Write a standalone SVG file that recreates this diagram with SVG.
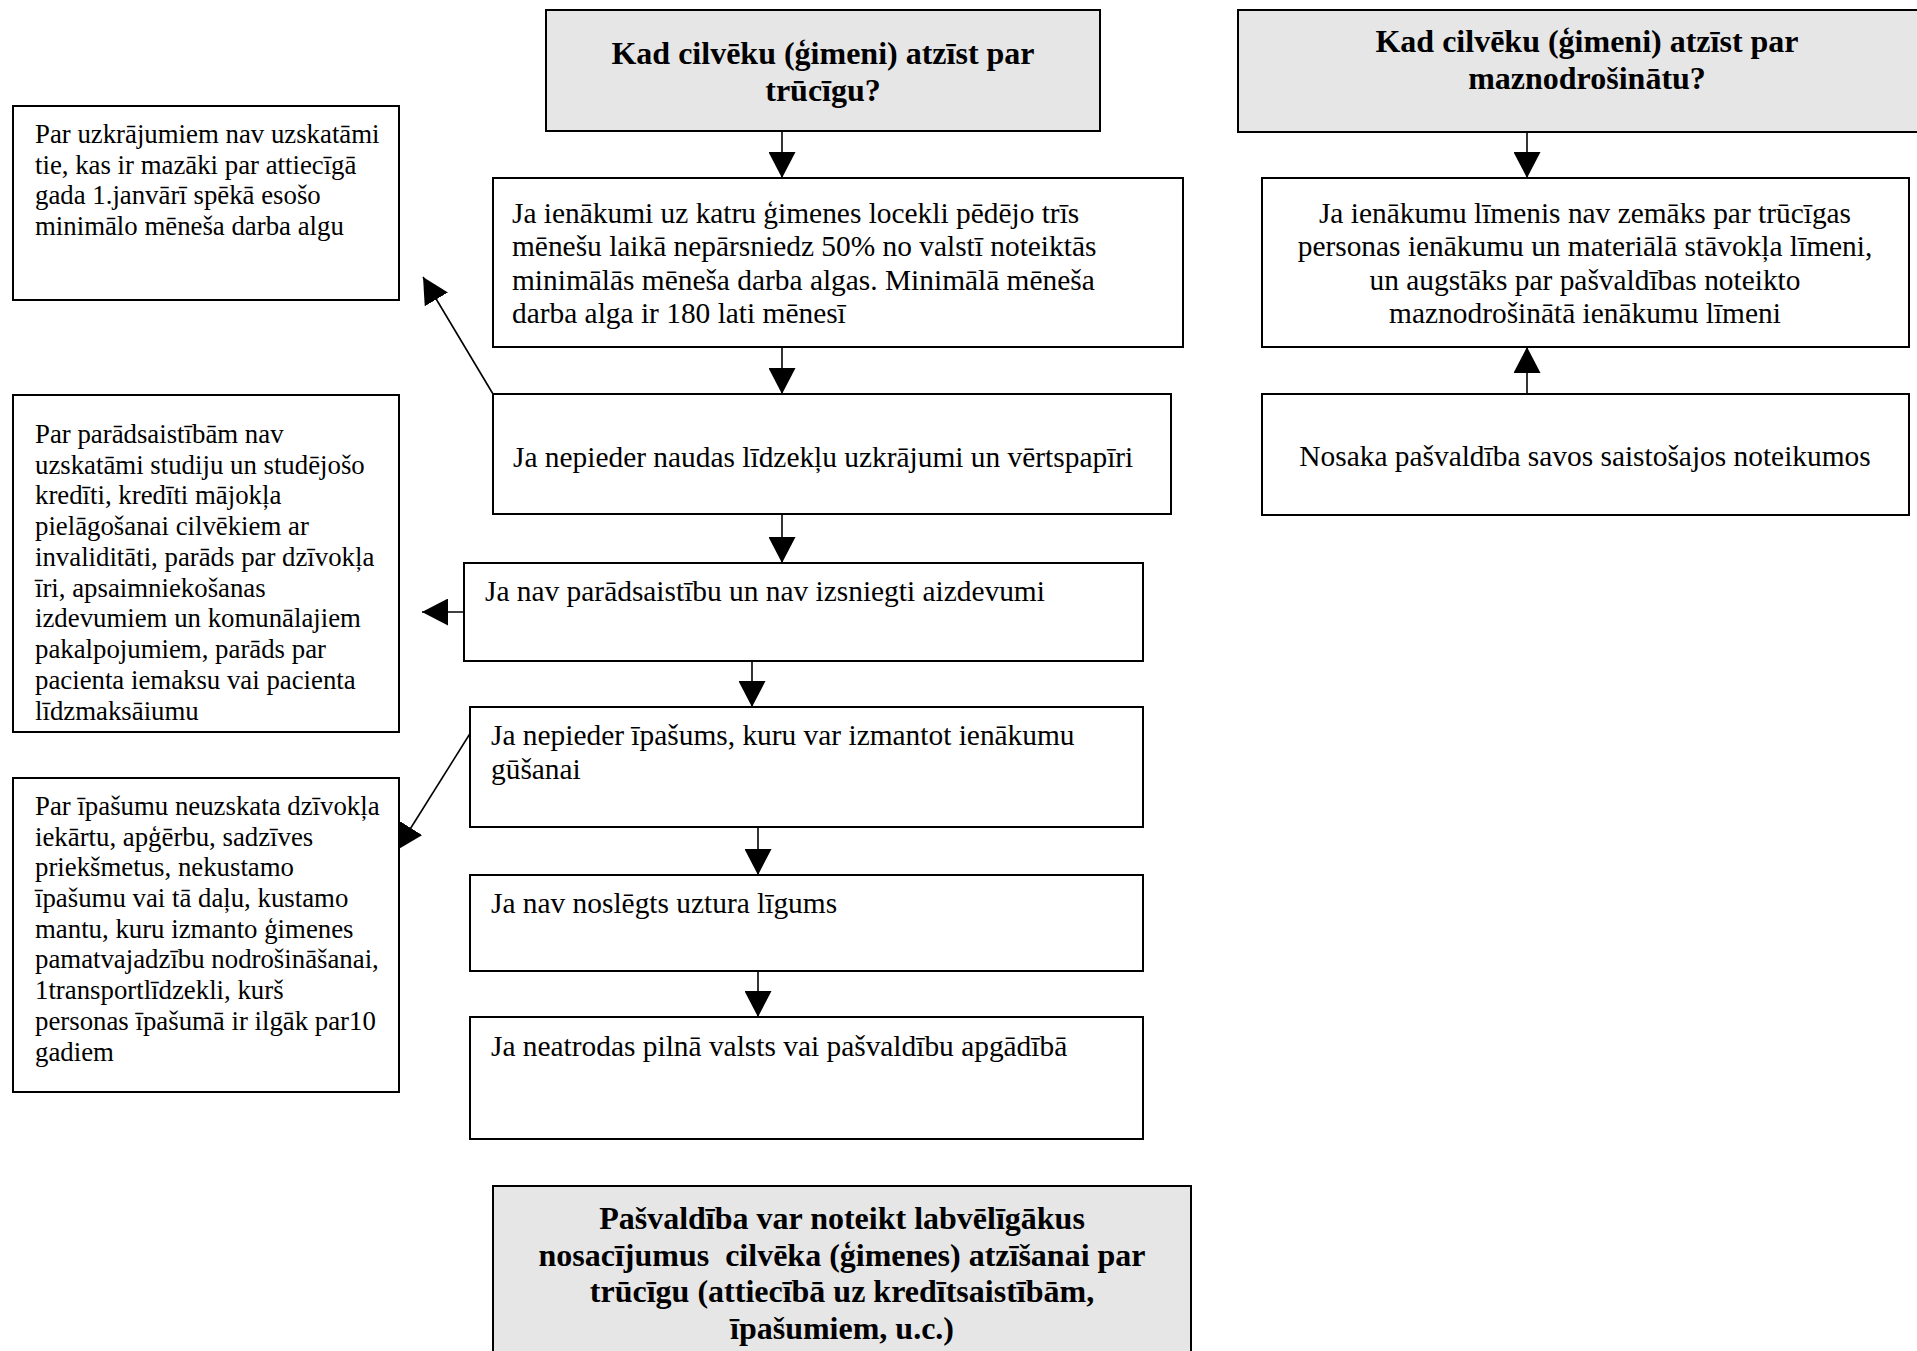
<svg xmlns="http://www.w3.org/2000/svg" width="1917" height="1351" viewBox="0 0 1917 1351">
<style>
.box{fill:#ffffff;stroke:#000000;stroke-width:2}
.gray{fill:#e6e6e6;stroke:#000000;stroke-width:2}
.t{font-family:"Liberation Serif","Times New Roman",serif;font-size:29.4px;fill:#000}
.s{font-family:"Liberation Serif","Times New Roman",serif;font-size:26.8px;fill:#000}
.b{font-family:"Liberation Serif","Times New Roman",serif;font-size:32px;font-weight:bold;fill:#000;text-anchor:middle}
.c{text-anchor:middle}
.ln{stroke:#000;stroke-width:1.6;fill:none;marker-end:url(#ah)}
</style>
<defs>
<marker id="ah" markerUnits="userSpaceOnUse" markerWidth="26" markerHeight="27" refX="26" refY="13.5" orient="auto">
<path d="M0,0 L26,13.5 L0,27 Z" fill="#000"/>
</marker>
</defs>
<rect width="1917" height="1351" fill="#fff"/>
<g id="connectors">
<line class="ln" x1="782" y1="131" x2="782" y2="178"/>
<line class="ln" x1="782" y1="347" x2="782" y2="394"/>
<line class="ln" x1="782" y1="514" x2="782" y2="563"/>
<line class="ln" x1="752" y1="661" x2="752" y2="707"/>
<line class="ln" x1="758" y1="827" x2="758" y2="875"/>
<line class="ln" x1="758" y1="971" x2="758" y2="1017"/>
<line class="ln" x1="1527" y1="132" x2="1527" y2="178"/>
<line class="ln" x1="1527" y1="394" x2="1527" y2="347"/>
<line class="ln" x1="493" y1="394" x2="423" y2="277"/>
<line class="ln" x1="464" y1="612" x2="422" y2="612"/>
<line class="ln" x1="471" y1="732" x2="397" y2="850"/>
</g>
<g id="nodeA">
<rect class="gray" x="546" y="10" width="554" height="121"/>
<text class="b" x="823" y="64">Kad cilvēku (ģimeni) atzīst par</text>
<text class="b" x="823" y="101">trūcīgu?</text>
</g>
<g id="nodeB">
<rect class="gray" x="1238" y="10" width="700" height="122"/>
<text class="b" x="1587" y="52">Kad cilvēku (ģimeni) atzīst par</text>
<text class="b" x="1587" y="89">maznodrošinātu?</text>
</g>
<g id="nodeC">
<rect class="box" x="493" y="178" width="690" height="169"/>
<text class="t" x="512" y="223">Ja ienākumi uz katru ģimenes locekli pēdējo trīs</text>
<text class="t" x="512" y="256">mēnešu laikā nepārsniedz 50% no valstī noteiktās</text>
<text class="t" x="512" y="290">minimālās mēneša darba algas. Minimālā mēneša</text>
<text class="t" x="512" y="323">darba alga ir 180 lati mēnesī</text>
</g>
<g id="nodeD">
<rect class="box" x="1262" y="178" width="647" height="169"/>
<text class="t c" x="1585" y="223">Ja ienākumu līmenis nav zemāks par trūcīgas</text>
<text class="t c" x="1585" y="256">personas ienākumu un materiālā stāvokļa līmeni,</text>
<text class="t c" x="1585" y="290">un augstāks par pašvaldības noteikto</text>
<text class="t c" x="1585" y="323">maznodrošinātā ienākumu līmeni</text>
</g>
<g id="nodeE">
<rect class="box" x="493" y="394" width="678" height="120"/>
<text class="t" x="513" y="467">Ja nepieder naudas līdzekļu uzkrājumi un vērtspapīri</text>
</g>
<g id="nodeF">
<rect class="box" x="1262" y="394" width="647" height="121"/>
<text class="t c" x="1585" y="466">Nosaka pašvaldība savos saistošajos noteikumos</text>
</g>
<g id="nodeG">
<rect class="box" x="464" y="563" width="679" height="98"/>
<text class="t" x="485" y="601">Ja nav parādsaistību un nav izsniegti aizdevumi</text>
</g>
<g id="nodeH">
<rect class="box" x="470" y="707" width="673" height="120"/>
<text class="t" x="491" y="745">Ja nepieder īpašums, kuru var izmantot ienākumu</text>
<text class="t" x="491" y="779">gūšanai</text>
</g>
<g id="nodeI">
<rect class="box" x="470" y="875" width="673" height="96"/>
<text class="t" x="491" y="913">Ja nav noslēgts uztura līgums</text>
</g>
<g id="nodeJ">
<rect class="box" x="470" y="1017" width="673" height="122"/>
<text class="t" x="491" y="1056">Ja neatrodas pilnā valsts vai pašvaldību apgādībā</text>
</g>
<g id="nodeK">
<rect class="gray" x="493" y="1186" width="698" height="180"/>
<text class="b" x="842" y="1229">Pašvaldība var noteikt labvēlīgākus</text>
<text class="b" x="842" y="1266" xml:space="preserve">nosacījumus  cilvēka (ģimenes) atzīšanai par</text>
<text class="b" x="842" y="1302">trūcīgu (attiecībā uz kredītsaistībām,</text>
<text class="b" x="842" y="1339">īpašumiem, u.c.)</text>
</g>
<g id="nodeL1">
<rect class="box" x="13" y="106" width="386" height="194"/>
<text class="s" x="35" y="143">Par uzkrājumiem nav uzskatāmi</text>
<text class="s" x="35" y="174">tie, kas ir mazāki par attiecīgā</text>
<text class="s" x="35" y="204">gada 1.janvārī spēkā esošo</text>
<text class="s" x="35" y="235">minimālo mēneša darba algu</text>
</g>
<g id="nodeL2">
<rect class="box" x="13" y="395" width="386" height="337"/>
<text class="s" x="35" y="443">Par parādsaistībām nav</text>
<text class="s" x="35" y="474">uzskatāmi studiju un studējošo</text>
<text class="s" x="35" y="504">kredīti, kredīti mājokļa</text>
<text class="s" x="35" y="535">pielāgošanai cilvēkiem ar</text>
<text class="s" x="35" y="566">invaliditāti, parāds par dzīvokļa</text>
<text class="s" x="35" y="597">īri, apsaimniekošanas</text>
<text class="s" x="35" y="627">izdevumiem un komunālajiem</text>
<text class="s" x="35" y="658">pakalpojumiem, parāds par</text>
<text class="s" x="35" y="689">pacienta iemaksu vai pacienta</text>
<text class="s" x="35" y="720">līdzmaksāiumu</text>
</g>
<g id="nodeL3">
<rect class="box" x="13" y="778" width="386" height="314"/>
<text class="s" x="35" y="815">Par īpašumu neuzskata dzīvokļa</text>
<text class="s" x="35" y="846">iekārtu, apģērbu, sadzīves</text>
<text class="s" x="35" y="876">priekšmetus, nekustamo</text>
<text class="s" x="35" y="907">īpašumu vai tā daļu, kustamo</text>
<text class="s" x="35" y="938">mantu, kuru izmanto ģimenes</text>
<text class="s" x="35" y="968">pamatvajadzību nodrošināšanai,</text>
<text class="s" x="35" y="999">1transportlīdzekli, kurš</text>
<text class="s" x="35" y="1030">personas īpašumā ir ilgāk par10</text>
<text class="s" x="35" y="1061">gadiem</text>
</g>
</svg>
